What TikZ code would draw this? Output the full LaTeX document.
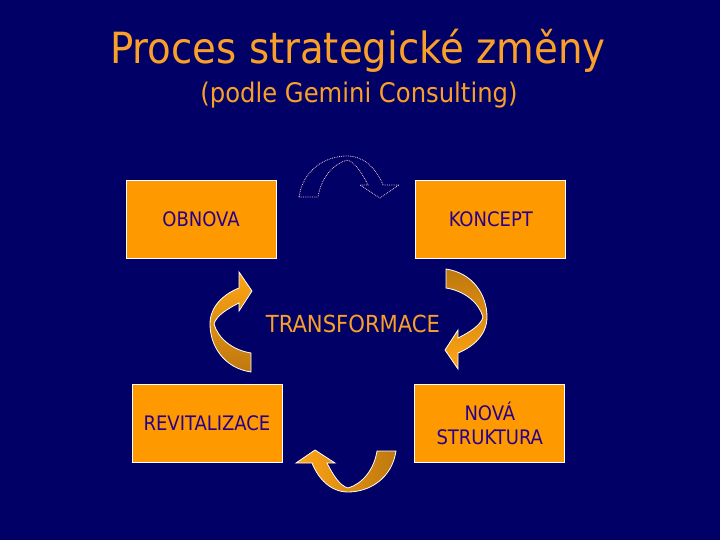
\documentclass[tikz,border=0pt]{standalone}
\usepackage{fontspec}
\setmainfont{DejaVu Sans Condensed}
\definecolor{slideblue}{RGB}{0,0,102}
\definecolor{stageorange}{RGB}{255,153,0}
\definecolor{stagetext}{RGB}{40,0,140}
\definecolor{titleorange}{RGB}{250,160,40}
\definecolor{arrowlight}{RGB}{255,165,20}
\definecolor{arrowdark}{RGB}{190,120,15}
\definecolor{dotpink}{RGB}{240,200,200}
\usepackage{tikz}
\usetikzlibrary{positioning}

\tikzset{
  stage/.style={draw=white, line width=0.8pt, fill=stageorange, text=stagetext, minimum width=150pt, minimum height=78pt, inner sep=0pt, align=center, font=\fontsize{20}{24}\selectfont},
  heading/.style={text=titleorange, anchor=base},
  pics/turnarrow/.style={code={
    \path[draw=white, line width=0.8pt, #1] (50,-20) .. controls (46,7) and (24,21) .. (2,21) .. controls (-16,21) and (-28,7) .. (-34,-8) -- (-50,-8) -- (-31,-21) -- (-11,-8) -- (-19,-8) .. controls (-13,4) and (-6,15) .. (2,17) .. controls (16,13) and (28,-1) .. (31,-20) -- cycle;
  }}
}

\begin{document}
\begin{tikzpicture}[x=1pt, y=-1pt]
    % Background
    \fill[slideblue] (0,0) rectangle (720,540);
    \useasboundingbox (0,0) rectangle (720,540);

    % Title
    \node[heading, font=\fontsize{43}{50}\selectfont] (title) at (358,64) {Proces strategické změny};
    \node[heading, font=\fontsize{27}{32}\selectfont] (subtitle) at (359,103) {(podle Gemini Consulting)};

    % Stages
    \node[stage] (obnova) at (201,219) {OBNOVA};
    \node[stage, right=139pt of obnova] (koncept) {KONCEPT};
    \node[stage] (revital) at (207,423) {REVITALIZACE};
    \node[stage, right=132pt of revital] (nova) {NOVÁ\\STRUKTURA};

    % Centre
    \node[text=titleorange, font=\fontsize{23.5}{28}\selectfont] (transform) at (353,324) {TRANSFORMACE};

    % Curved arrows
    \pic[rotate=180] (toparrow) at (349,177) {turnarrow={draw=dotpink, densely dotted}};
    \pic[rotate=-90] (leftarrow) at (231,322) {turnarrow={top color=arrowlight, bottom color=arrowdark}};
    \pic[rotate=90] (rightarrow) at (466,319) {turnarrow={top color=arrowdark, bottom color=arrowlight}};
    \pic (bottomarrow) at (346,471) {turnarrow={left color=arrowlight, right color=arrowdark}};
\end{tikzpicture}
\end{document}
